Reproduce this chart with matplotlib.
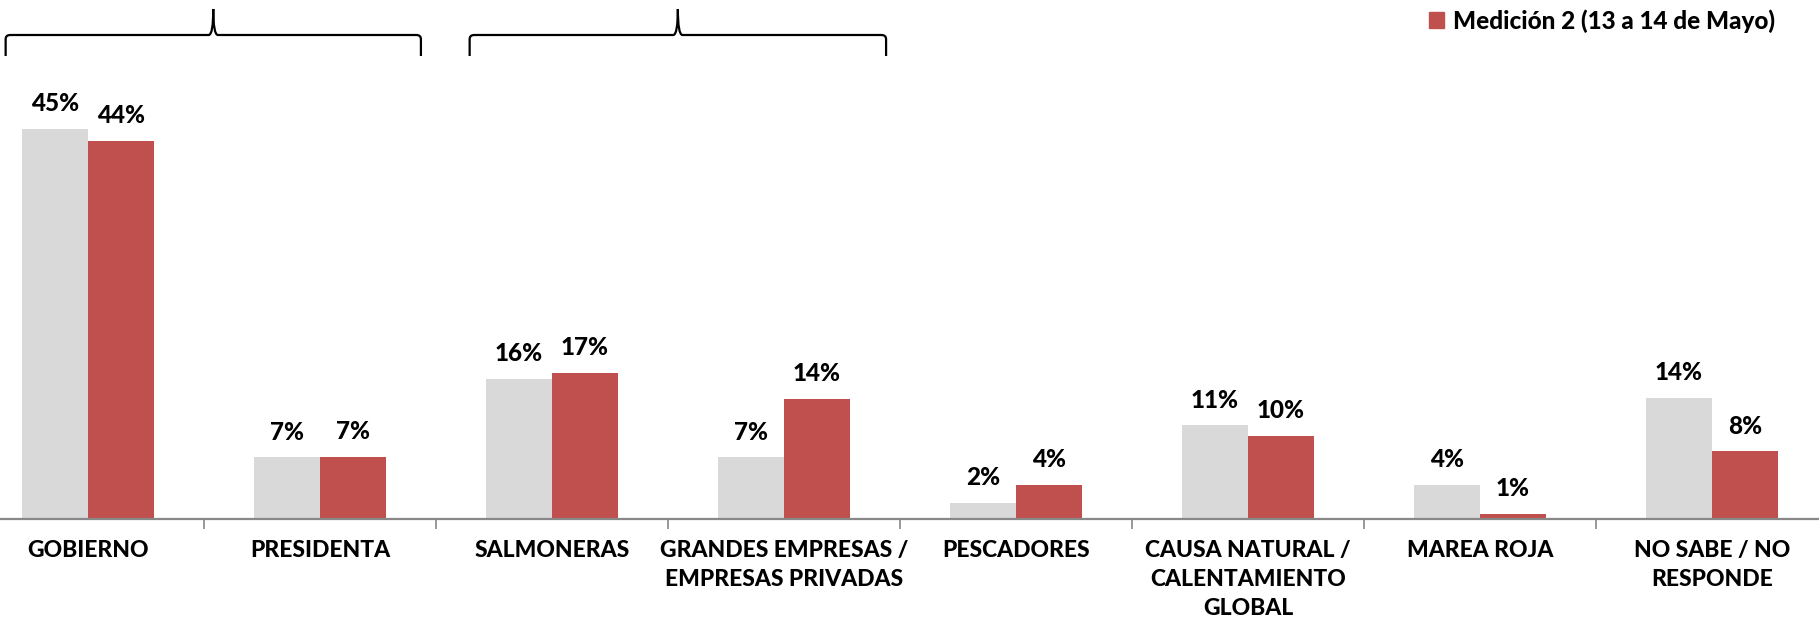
import matplotlib
matplotlib.use("Agg")
import matplotlib.pyplot as plt
from matplotlib.path import Path
from matplotlib.patches import PathPatch, Patch
import matplotlib.transforms as mtransforms
import numpy as np

# Datos del gráfico
categorias = ["GOBIERNO", "PRESIDENTA", "SALMONERAS", "GRANDES EMPRESAS /\nEMPRESAS PRIVADAS",
              "PESCADORES", "CAUSA NATURAL /\nCALENTAMIENTO\nGLOBAL", "MAREA ROJA", "NO SABE / NO\nRESPONDE"]
medicion_1 = [45.0, 7.1, 16.2, 7.1, 1.9, 10.8, 3.9, 14.0]
medicion_2 = [43.6, 7.2, 16.9, 13.9, 3.9, 9.6, 0.6, 7.8]
etiqueta_2 = "Medición 2 (13 a 14 de Mayo)"

gris = "#D9D9D9"
rojo = "#C0504D"
fuente = ["Lato", "DejaVu Sans"]

W, H = 1819, 618
fig = plt.figure(figsize=(W / 100, H / 100), dpi=100)
# el eje se sale un poco del lienzo, como en la imagen original
ax = fig.add_axes([-28 / W, (H - 519) / H, 1856 / W, 519 / H])

x = np.arange(len(categorias))
ancho = 0.285
b1 = ax.bar(x - ancho / 2, medicion_1, ancho, color=gris)
b2 = ax.bar(x + ancho / 2, medicion_2, ancho, color=rojo)

# Etiquetas de porcentaje
for barras, vals in ((b1, medicion_1), (b2, medicion_2)):
    for b, v in zip(barras, vals):
        ax.annotate(f"{round(v):d}%", (b.get_x() + b.get_width() / 2, b.get_height()),
                    xytext=(0, 10), textcoords="offset points", ha="center", va="bottom",
                    fontsize=17.5, fontweight="black", family=fuente)

ax.set_xlim(-0.5, len(categorias) - 0.5)
ax.set_ylim(0, 59.9)

for s in ["top", "right", "left"]:
    ax.spines[s].set_visible(False)
ax.spines["bottom"].set_color("#888888")
ax.spines["bottom"].set_linewidth(1.6)
ax.set_yticks([])

ax.set_xticks(x)
ax.set_xticklabels(categorias, fontsize=16.5, fontweight="black", family=fuente, linespacing=1.48)
ax.tick_params(axis="x", which="major", length=0, pad=15)
ax.set_xticks(np.arange(-0.5, len(categorias)), minor=True)
ax.tick_params(axis="x", which="minor", length=7, width=1.2, color="#888888")

# Llaves encima de los grupos
trans = mtransforms.blended_transform_factory(ax.transData, ax.transAxes)

def llave(x0, x1, y_linea, y_fin, y_punta, r=0.02):
    xm = (x0 + x1) / 2
    dy = (y_linea - y_fin)
    verts = [(x0, y_fin), (x0, y_linea - dy * 0.2), (x0, y_linea), (x0 + r, y_linea),
             (xm - r, y_linea), (xm, y_linea), (xm, y_punta),
             (xm, y_punta), (xm, y_linea), (xm + r, y_linea),
             (x1 - r, y_linea), (x1, y_linea), (x1, y_linea - dy * 0.2), (x1, y_fin)]
    codes = [Path.MOVETO, Path.LINETO, Path.CURVE3, Path.CURVE3,
             Path.LINETO, Path.CURVE3, Path.CURVE3,
             Path.MOVETO, Path.CURVE3, Path.CURVE3,
             Path.LINETO, Path.CURVE3, Path.CURVE3, Path.LINETO]
    ax.add_patch(PathPatch(Path(verts, codes), transform=trans, fill=False,
                           lw=1.6, color="black", clip_on=False))

y_l = (519 - 35) / 519
y_f = (519 - 56) / 519
y_p = (519 - 9) / 519
llave(-0.355, 1.435, y_l, y_f, y_p)
llave(1.645, 3.44, y_l, y_f, y_p)

# Leyenda (solo la segunda medición es visible)
fig.legend(handles=[Patch(color=rojo, label=etiqueta_2)], loc="upper right",
           bbox_to_anchor=(1775 / W, 1 - 9 / H), frameon=False,
           prop={"family": fuente, "weight": "black", "size": 17.5},
           handlelength=0.65, handleheight=0.65, handletextpad=0.35,
           borderpad=0, borderaxespad=0)

fig.savefig("out.png", dpi=100)
